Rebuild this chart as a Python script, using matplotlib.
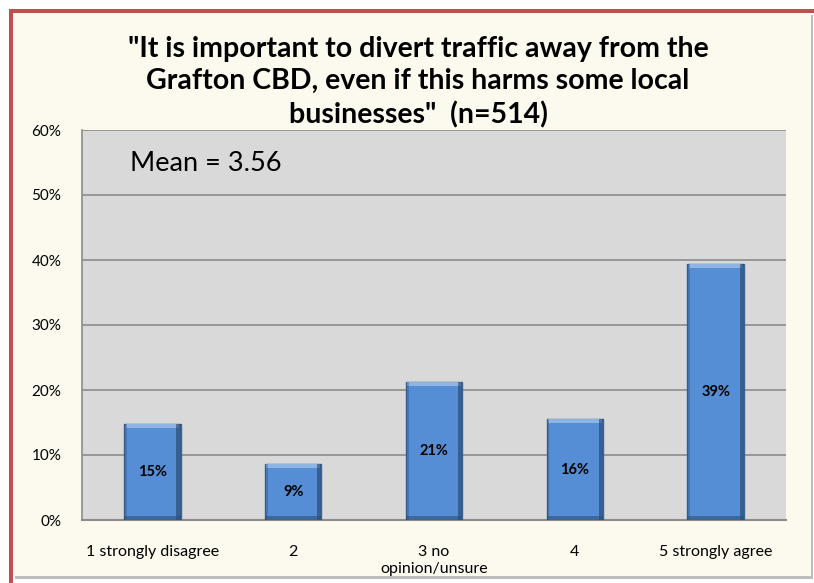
import matplotlib.pyplot as plt
from matplotlib.patches import Rectangle

# survey responses (share of respondents)
categories = ["1 strongly disagree", "2", "3 no\nopinion/unsure", "4", "5 strongly agree"]
shares = [14.8, 8.6, 21.2, 15.5, 39.4]
share_labels = ["15%", "9%", "21%", "16%", "39%"]
y_ticks = [0, 10, 20, 30, 40, 50, 60]
y_tick_labels = ["0%", "10%", "20%", "30%", "40%", "50%", "60%"]

title = ('"It is important to divert traffic away from the\n'
         'Grafton CBD, even if this harms some local\n'
         'businesses"  (n=514)')

W, H = 814, 583
fig = plt.figure(figsize=(W / 100, H / 100), dpi=100)
fig.patch.set_facecolor("white")


def frame_box(x0, y0, x1, y1, color, z):
    # pixel box measured from the top-left corner
    fig.patches.append(Rectangle((x0 / W, 1 - y1 / H), (x1 - x0) / W, (y1 - y0) / H,
                                 transform=fig.transFigure, facecolor=color,
                                 edgecolor="none", zorder=z))


# chart frame: red border on top/left, grey shadow on right/bottom, cream fill
frame_box(9, 9, W, H, "#C0504D", -4)
frame_box(13, 13, W, H, "white", -3)
frame_box(15, 15, W - 1, H - 4, "#BDBDBD", -2)
frame_box(13, 13, W - 3, H - 7, "#FCFAEF", -1)

ax = fig.add_axes([82 / W, (H - 520) / H, (786 - 82) / W, (520 - 130) / H])
ax.set_facecolor("#D9D9D9")

x = list(range(len(categories)))
width = 0.4
blue = "#558ED5"

ax.bar(x, shares, width=width, color=blue, edgecolor="#3A6496", linewidth=1.0, zorder=3)
# bevel shading: lighter top strip, darker right and bottom strips
bevel = 0.6
ax.bar(x, [bevel] * len(x), bottom=[s - bevel for s in shares], width=width - 0.02,
       color="#8EB4E3", edgecolor="none", zorder=4)
ax.bar([i + width / 2 - 0.015 for i in x], shares, width=0.03,
       color="#1F3B5C", edgecolor="none", alpha=0.55, zorder=4)
ax.bar([i - width / 2 + 0.01 for i in x], shares, width=0.02,
       color="#2E4F78", edgecolor="none", alpha=0.35, zorder=4)
ax.bar(x, [bevel] * len(x), width=width, color="#2E4F78", edgecolor="none",
       alpha=0.6, zorder=4)

for i, (s, lab) in enumerate(zip(shares, share_labels)):
    ax.text(i, s / 2, lab, ha="center", va="center", fontsize=10.5,
            fontweight="bold", color="black", family="Lato", zorder=5)

ax.set_ylim(0, 60)
ax.set_xlim(-0.5, len(categories) - 0.5)
ax.set_yticks(y_ticks)
ax.set_yticklabels(y_tick_labels, family="Lato", fontsize=11)
ax.set_xticks(x)
ax.set_xticklabels(categories, family="Lato", fontsize=11.5)
for lab in ax.get_xticklabels():
    lab.set_linespacing(1.25)
ax.tick_params(axis="x", length=0, pad=18)
ax.tick_params(axis="y", length=0, pad=15)
ax.grid(axis="y", color="#8C8C8C", linewidth=1.2, zorder=1)
ax.set_axisbelow(True)
for side in ["top", "right"]:
    ax.spines[side].set_visible(False)
ax.spines["left"].set_color("#8C8C8C")
ax.spines["bottom"].set_color("#8C8C8C")
ax.spines["left"].set_linewidth(1.2)
ax.spines["bottom"].set_linewidth(1.5)

ax.text(0.068, 0.915, "Mean = 3.56", transform=ax.transAxes, fontsize=19.5,
        family="Lato", va="center", ha="left")

fig.text(418 / W, 1 - 82 / H, title, ha="center", va="center", fontsize=20.5,
         fontweight="bold", family="Lato", linespacing=1.3)

fig.savefig("out.png", dpi=100)
